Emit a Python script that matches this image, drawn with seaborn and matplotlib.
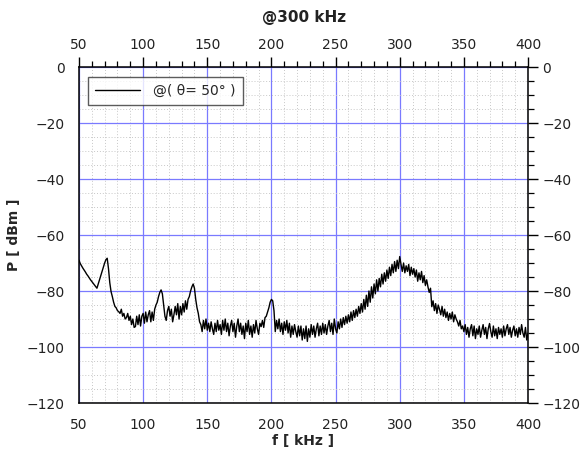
import numpy as np
import pandas as pd
import matplotlib
matplotlib.use("Agg")
import matplotlib.pyplot as plt
from matplotlib.ticker import MultipleLocator
import seaborn as sns

# Measured power spectrum, 1 kHz steps from 50 to 400 kHz
freq_khz = list(range(50, 401))
power_dbm = [
    -69.0, -70.2, -71.0, -71.8, -72.5, -73.2, -74.0, -74.6, -75.3, -76.0,   # 50
    -76.6, -77.2, -77.8, -78.4, -79.0, -77.5, -76.0, -74.5, -73.0, -71.5,   # 60
    -70.0, -68.8, -68.3, -72.0, -77.0, -80.2, -82.0, -84.0, -85.5, -86.0,   # 70
    -87.0, -87.4, -88.0, -86.5, -89.0, -88.0, -90.0, -89.5, -88.0, -90.5,   # 80
    -89.0, -92.0, -90.0, -93.0, -92.7, -89.0, -92.0, -88.5, -92.5, -89.0,   # 90
    -88.0, -91.5, -87.5, -91.0, -88.5, -87.0, -91.0, -87.5, -90.5, -86.5,   # 100
    -85.0, -84.0, -82.0, -80.5, -79.6, -81.0, -85.0, -89.0, -90.5, -87.0,   # 110
    -85.5, -89.0, -86.5, -91.0, -88.5, -85.5, -88.5, -84.5, -90.0, -85.5,   # 120
    -88.5, -84.5, -87.5, -83.5, -86.5, -83.0, -82.0, -80.0, -78.5, -77.5,   # 130
    -79.0, -83.0, -86.0, -88.0, -91.0, -92.0, -94.5, -90.5, -93.5, -90.0,   # 140
    -94.0, -91.5, -94.5, -91.0, -93.5, -95.5, -91.5, -94.5, -90.5, -94.0,   # 150
    -92.0, -95.5, -90.5, -94.0, -90.0, -94.5, -91.5, -96.0, -92.5, -90.5,   # 160
    -94.5, -91.5, -96.5, -92.5, -90.0, -94.5, -91.5, -95.5, -92.5, -97.0,   # 170
    -91.5, -94.5, -90.5, -95.5, -92.5, -96.5, -92.0, -95.0, -90.5, -93.5,   # 180
    -95.5, -91.5, -92.7, -90.5, -93.0, -89.5, -89.0, -87.5, -86.0, -84.0,   # 190
    -83.0, -83.5, -87.0, -94.5, -90.5, -93.5, -90.0, -94.5, -91.5, -95.5,   # 200
    -91.0, -94.0, -90.5, -95.0, -91.5, -96.5, -92.5, -95.5, -92.0, -94.5,   # 210
    -96.5, -92.5, -96.0, -92.5, -97.5, -93.5, -97.0, -92.5, -98.0, -93.5,   # 220
    -96.5, -92.0, -95.5, -92.5, -96.5, -93.5, -91.5, -96.0, -92.5, -95.5,   # 230
    -91.5, -95.0, -92.0, -95.5, -92.5, -90.5, -94.5, -91.5, -95.5, -90.0,   # 240
    -93.5, -95.0, -91.0, -93.5, -90.0, -93.0, -89.5, -92.0, -89.0, -91.5,   # 250
    -88.5, -91.0, -87.5, -90.5, -87.0, -89.5, -86.5, -89.0, -85.5, -88.0,   # 260
    -84.5, -87.5, -83.0, -86.5, -81.5, -85.5, -80.0, -84.0, -78.5, -82.5,   # 270
    -77.5, -81.0, -76.0, -80.0, -75.5, -78.5, -74.0, -77.5, -73.5, -76.5,   # 280
    -72.5, -75.5, -71.5, -74.5, -70.5, -73.5, -69.5, -73.0, -69.0, -72.0,   # 290
    -67.7, -70.5, -73.0, -70.0, -73.5, -71.0, -73.0, -70.5, -74.5, -71.5,   # 300
    -74.0, -72.0, -75.0, -72.5, -76.5, -73.5, -76.0, -73.0, -77.0, -74.5,   # 310
    -78.0, -76.0, -78.5, -80.5, -79.0, -85.6, -83.5, -87.0, -84.5, -88.0,   # 320
    -85.0, -86.5, -88.5, -85.5, -89.0, -86.5, -89.5, -87.5, -90.5, -88.0,   # 330
    -90.0, -87.5, -91.0, -88.5, -90.0, -91.0, -92.5, -90.5, -93.5, -92.5,   # 340
    -94.5, -92.0, -95.5, -93.0, -96.5, -93.5, -92.0, -96.0, -92.5, -97.0,   # 350
    -93.5, -95.5, -92.5, -96.5, -94.0, -92.0, -95.5, -93.0, -97.0, -93.5,   # 360
    -91.6, -94.5, -96.5, -92.5, -96.0, -93.5, -97.0, -93.0, -95.5, -93.5,   # 370
    -96.5, -92.5, -96.0, -93.5, -92.0, -95.5, -93.0, -96.5, -94.0, -92.5,   # 380
    -96.0, -93.5, -96.5, -93.0, -95.5, -92.0, -95.0, -96.5, -93.0, -97.5,   # 390
    -95.0,                                                                # 400
]
series_label = "@( θ= 50° )"
title_text = "@300 kHz"
x_title = "f [ kHz ]"
y_title = "P [ dBm ]"

df = pd.DataFrame({"f": freq_khz, "P": power_dbm})

sns.set_style("white")
plt.rcParams["font.family"] = ["DejaVu Sans"]

fig = plt.figure(figsize=(5.85, 4.54), dpi=100)
ax = fig.add_axes([0.135, 0.1123, 0.7676, 0.7401])

sns.lineplot(data=df, x="f", y="P", ax=ax, color="black", linewidth=1.0,
             label=series_label, estimator=None)

ax.set_xlim(50, 400)
ax.set_ylim(-120, 0)
ax.xaxis.set_major_locator(MultipleLocator(50))
ax.xaxis.set_minor_locator(MultipleLocator(10))
ax.yaxis.set_major_locator(MultipleLocator(20))
ax.yaxis.set_minor_locator(MultipleLocator(5))

ax.grid(which="minor", color="#c8c8c8", linestyle=(0, (1, 2)), linewidth=0.7)
ax.grid(which="major", color="#7a7aff", linestyle="-", linewidth=0.9)
ax.set_axisbelow(True)

ax.tick_params(which="both", direction="out", top=True, right=True,
               labeltop=True, labelright=True, labelsize=10, colors="black",
               labelcolor="#222222")
ax.tick_params(which="major", length=7, width=1)
ax.tick_params(which="minor", length=4.5, width=0.9)
for s in ax.spines.values():
    s.set_color("black")
    s.set_linewidth(1.1)

ax.set_xlabel(x_title, fontsize=10, fontweight="bold", labelpad=2)
ax.set_ylabel(y_title, fontsize=10, fontweight="bold", labelpad=4)
# Title placed above the top tick labels, centred on the plotting area
fig.text(0.519, 0.962, title_text, ha="center", va="center",
         fontsize=11, fontweight="bold", color="#222222")

leg = ax.legend(loc="upper left", bbox_to_anchor=(0.005, 0.99), fontsize=10,
                frameon=True, fancybox=False, handlelength=3.2,
                borderpad=0.5, handletextpad=1.0)
leg.get_frame().set_edgecolor("#333333")
leg.get_frame().set_linewidth(1.0)

fig.savefig("out.png", dpi=100)
